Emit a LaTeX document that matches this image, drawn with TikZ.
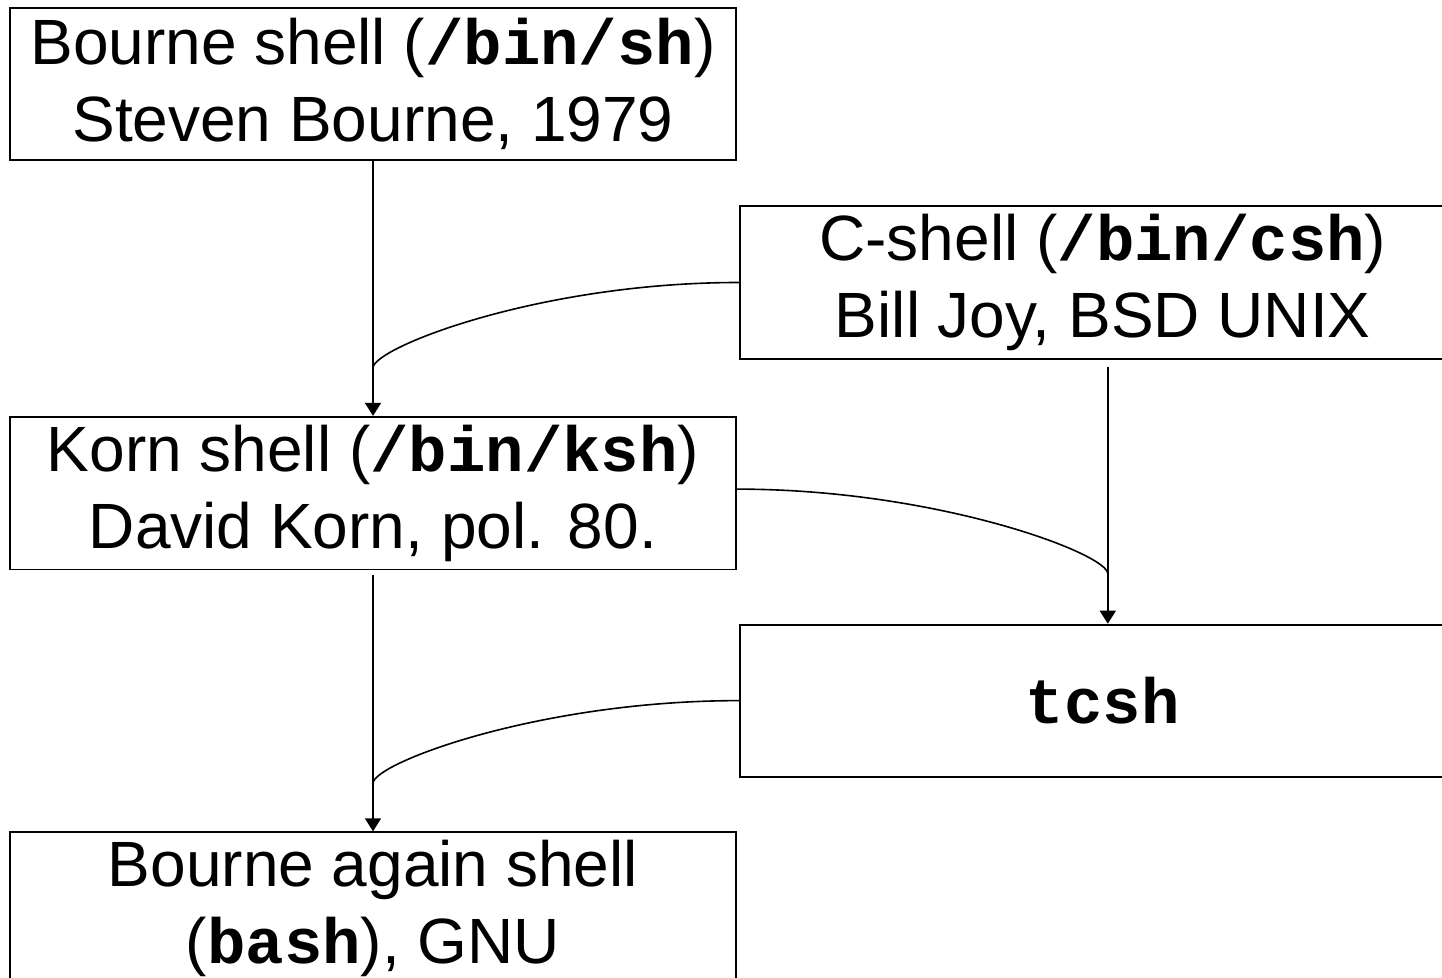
\documentclass[tikz,border=0pt]{standalone}
\usepackage{fontspec}
\setmainfont{Liberation Sans}
\setmonofont{Liberation Mono}
\usetikzlibrary{shapes,arrows.meta,positioning}

\begin{document}
\begin{tikzpicture}[
    shellbox/.style={rectangle, draw, line width=0.9pt, align=center, inner sep=4pt,
      minimum width=363pt, minimum height=76pt, font=\fontsize{32}{38.5}\selectfont},
    link/.style={line width=0.8pt, -{Triangle[width=8pt,length=6.5pt]}},
    merge/.style={line width=0.8pt}
  ]
    \clip (0,0) rectangle (721pt,-489pt);

    % Nodes
    \node (bourne) [shellbox] at (186.5pt,-42pt) {Bourne shell (\texttt{\textbf{/bin/sh}})\\Steven Bourne, 1979};
    \node (cshell) [shellbox, right=1pt of bourne, yshift=-99.25pt] {C-shell (\texttt{\textbf{/bin/csh}})\\Bill Joy, BSD UNIX};

    \node (korn) [shellbox, below=127.5pt of bourne] {Korn shell (\texttt{\textbf{/bin/ksh}})\\David Korn, pol. 80.};
    \node (tcsh) [shellbox, right=1pt of korn, yshift=-103.75pt] {\texttt{\textbf{tcsh}}};

    \node (bash) [shellbox, below=130.5pt of korn] {Bourne again shell\\(\texttt{\textbf{bash}}), GNU};

    % Arrows
    \draw [link] (bourne) -- (korn);
    \draw [merge] (cshell.west) .. controls +(-100pt,0) and +(0,10pt) .. ([yshift=24pt]korn.north);
    \draw [link, shorten <=3.5pt] ([xshift=2.5pt]cshell.south) -- ([xshift=2.5pt]tcsh.north);
    \draw [merge] ([yshift=2pt]korn.east) .. controls +(100pt,0) and +(0,10pt) .. ([xshift=2.5pt,yshift=25pt]tcsh.north);
    \draw [link, shorten <=2.5pt] (korn) -- (bash);
    \draw [merge] (tcsh.west) .. controls +(-100pt,0) and +(0,10pt) .. ([yshift=24pt]bash.north);
\end{tikzpicture}
\end{document}
